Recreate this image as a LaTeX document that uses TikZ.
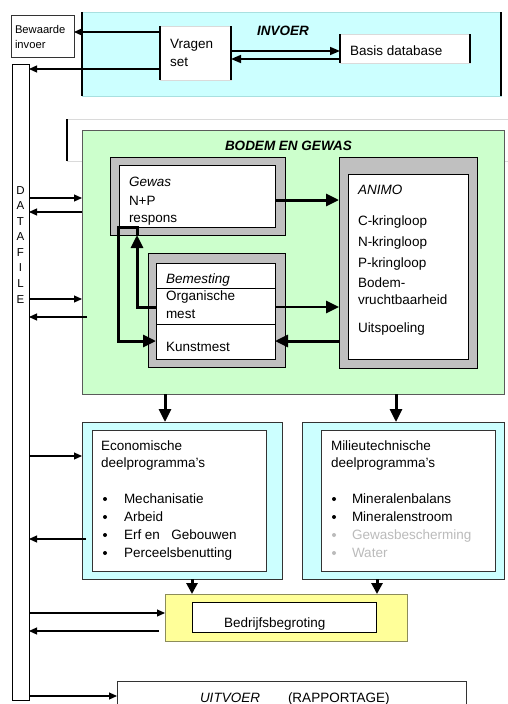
\documentclass[tikz,border=0pt]{standalone}
\usepackage{fontspec}
\setmainfont{Liberation Sans}
\usetikzlibrary{arrows.meta}
\definecolor{cyanfill}{HTML}{CCFFFF}
\definecolor{cyanedge}{HTML}{A8E0E0}
\definecolor{greenfill}{HTML}{CCFFCC}
\definecolor{greenedge}{HTML}{5A5A5A}
\definecolor{framegray}{HTML}{C0C0C0}
\definecolor{yellowfill}{HTML}{FFFF99}
\definecolor{yellowedge}{HTML}{8C8C5A}
\definecolor{lightline}{HTML}{DADADA}
\definecolor{greytext}{HTML}{BBBBBB}
\definecolor{darkedge}{HTML}{333333}
\begin{document}
\begin{tikzpicture}[x=1pt,y=-1pt,
  box/.style={rectangle, inner sep=0pt, outer sep=0pt, anchor=north west, line width=1pt},
  txt/.style={inner sep=0pt, outer sep=0pt, anchor=base west, font=\fontsize{13.5}{16}\selectfont},
  smalltxt/.style={txt, font=\fontsize{11.2}{14}\selectfont},
  bul/.style={circle, fill=black, inner sep=0pt, minimum size=4pt},
  thinarr/.style={line width=1.1pt, -{Triangle[length=8pt,width=7pt]}},
  medarr/.style={line width=1.6pt, -{Triangle[length=10pt,width=8pt]}},
  thickarr/.style={line width=3pt, line join=miter, -{Triangle[length=13pt,width=12pt]}},
  sideline/.style={line width=2.2pt}
]
\useasboundingbox (0,0) rectangle (508,704);
\clip (0,0) rectangle (508,704);

% ---- INVOER ----
\node[box, minimum width=63pt, minimum height=42pt, draw=darkedge, fill=white] (bew) at (11,15) {};
\node[smalltxt] (bewt1) at (15,33) {Bewaarde};
\node[smalltxt] (bewt2) at (15,48) {invoer};

\node[box, minimum width=17pt, minimum height=636pt, draw=black, fill=white] (data) at (12,64) {};
\foreach \l/\y [count=\i] in {D/194,A/209.6,T/225.1,A/240.7,F/256.3,I/271.9,L/287.4,E/303} {
  \node[inner sep=0pt, anchor=base, font=\fontsize{11.5}{14}\selectfont] (dl\i) at (20.5,\y) {\l};
}

\node[box, minimum width=419pt, minimum height=84pt, draw=cyanedge, fill=cyanfill] (invoer) at (82,12) {};
\draw[sideline] (invoer.north west) -- (invoer.south west);
\draw[sideline] (invoer.north east) -- (invoer.south east);
\node[txt, font=\fontsize{13.5}{16}\selectfont\bfseries\itshape] (invt) at (257,35) {INVOER};

\node[box, minimum width=71pt, minimum height=54pt, draw=lightline, fill=white] (vragen) at (160,26) {};
\draw[sideline] (vragen.north west) -- (vragen.south west);
\draw[sideline] (vragen.north east) -- (vragen.south east);
\node[txt] (vt1) at (170,48) {Vragen};
\node[txt] (vt2) at (170,66) {set};

\node[box, minimum width=130pt, minimum height=29pt, draw=lightline, fill=white] (basis) at (340,34) {};
\draw[line width=1.8pt] (basis.north west) -- (basis.south west);
\draw[line width=1.8pt] (basis.north east) -- (basis.south east);
\node[txt] (bt) at (350,55) {Basis database};

\draw[thinarr] (vragen.west |- 0,32) -- (bew.east |- 0,32);
\draw[thinarr] (vragen.west |- 0,69) -- (data.east |- 0,69);
\draw[medarr] (vragen.east |- 0,51) -- (basis.west |- 0,51);
\draw[medarr] (basis.west |- 0,59) -- (vragen.east |- 0,59);

% ---- ghost frame ----
\node[box, minimum width=460pt, minimum height=42pt, draw=lightline] (ghost) at (67,119) {};
\draw[sideline] (ghost.north west) -- (ghost.south west);

% ---- BODEM EN GEWAS ----
\node[box, minimum width=422pt, minimum height=264pt, draw=greenedge, fill=greenfill] (bodem) at (82,130) {};
\node[txt, font=\fontsize{13.5}{16}\selectfont\bfseries\itshape] (bodt) at (225,150) {BODEM EN GEWAS};

\node[box, minimum width=175pt, minimum height=78pt, draw=black, fill=framegray] (gewasO) at (110,157) {};
\node[box, minimum width=156pt, minimum height=62pt, draw=black, fill=white] (gewasI) at (119,165) {};
\node[txt, font=\fontsize{13.5}{16}\selectfont\itshape] (gw1) at (129,186) {Gewas};
\node[txt] (gw2) at (129,205) {N+P};
\node[txt] (gw3) at (129,222) {respons};

\node[box, minimum width=137pt, minimum height=114pt, draw=black, fill=framegray] (bemO) at (148,253) {};
\node[box, minimum width=119pt, minimum height=96pt, draw=black, fill=white] (bemI) at (156,263) {};
\draw[line width=0.8pt] (bemI.west |- 0,288) -- (bemI.east |- 0,288);
\draw[line width=0.8pt] (bemI.west |- 0,324) -- (bemI.east |- 0,324);
\node[txt, font=\fontsize{13.5}{16}\selectfont\itshape] (bm1) at (166,283) {Bemesting};
\node[txt] (bm2) at (166,300) {Organische};
\node[txt] (bm3) at (166,318) {mest};
\node[txt] (bm4) at (166,351) {Kunstmest};

\node[box, minimum width=138pt, minimum height=211pt, draw=black, fill=framegray] (animoO) at (339,157) {};
\node[box, minimum width=120pt, minimum height=185pt, draw=black, fill=white] (animoI) at (348,174) {};
\node[txt, font=\fontsize{13.5}{16}\selectfont\itshape] (an0) at (358,194) {ANIMO};
\node[txt] (an1) at (358,225) {C-kringloop};
\node[txt] (an2) at (358,246) {N-kringloop};
\node[txt] (an3) at (358,267) {P-kringloop};
\node[txt] (an4) at (358,287) {Bodem-};
\node[txt] (an5) at (358,304) {vruchtbaarheid};
\node[txt] (an6) at (358,332) {Uitspoeling};

\draw[thickarr] (gewasI.east |- 0,200) -- (animoO.west |- 0,200);
\draw[thickarr, line width=2.6pt] (bemI.east |- 0,307) -- (animoO.west |- 0,307);
\draw[thickarr] (animoO.west |- 0,341) -- (bemI.east |- 0,341);

\coordinate (lp1) at (137,227);
\coordinate (lp2) at (118,227);
\draw[thickarr] (bemI.west |- 0,307) -| (gewasO.south -| lp1);
\draw[thickarr] (gewasO.south -| lp1) -- (lp1) -- (lp2) |- (bemI.west |- 0,341);

% datafile <-> bodem
\draw[thinarr] (data.east |- 0,198) -- (bodem.west |- 0,198);
\draw[thinarr] (bodem.west |- 0,212) -- (data.east |- 0,212);
\draw[thinarr] (data.east |- 0,299) -- (bodem.west |- 0,299);
\coordinate (r4) at (87,317);
\draw[thinarr] (r4) -- (data.east |- r4);

% ---- deelprogramma's ----
\node[box, minimum width=200pt, minimum height=157pt, draw=darkedge, fill=cyanfill] (econO) at (82,422) {};
\node[box, minimum width=174pt, minimum height=141pt, draw=darkedge, fill=white] (econI) at (92,430) {};
\node[txt] (ect1) at (101,450) {Economische};
\node[txt] (ect2) at (101,467) {deelprogramma’s};
\node[bul] (eb1) at (105,499) {};
\node[bul] (eb2) at (105,517) {};
\node[bul] (eb3) at (105,535) {};
\node[bul] (eb4) at (105,553) {};
\node[txt] (ei1) at (124,503) {Mechanisatie};
\node[txt] (ei2) at (124,521) {Arbeid};
\node[txt] (ei3) at (124,539) {Erf en\ \ \ Gebouwen};
\node[txt] (ei4) at (124,557) {Perceelsbenutting};

\node[box, minimum width=202pt, minimum height=157pt, draw=darkedge, fill=cyanfill] (milO) at (302,422) {};
\node[box, minimum width=174pt, minimum height=141pt, draw=darkedge, fill=white] (milI) at (321,430) {};
\node[txt] (mt1) at (331,450) {Milieutechnische};
\node[txt] (mt2) at (331,467) {deelprogramma’s};
\node[bul] (mb1) at (334,499) {};
\node[bul] (mb2) at (334,517) {};
\node[bul, fill=greytext] (mb3) at (334,535) {};
\node[bul, fill=greytext] (mb4) at (334,553) {};
\node[txt] (mi1) at (352,503) {Mineralenbalans};
\node[txt] (mi2) at (352,521) {Mineralenstroom};
\node[txt, text=greytext] (mi3) at (352,539) {Gewasbescherming};
\node[txt, text=greytext] (mi4) at (352,557) {Water};

\draw[thickarr] (bodem.south -| 165,0) -- (econO.north -| 165,0);
\draw[thickarr] (bodem.south -| 396,0) -- (milO.north -| 396,0);

\draw[thinarr] (data.east |- 0,456) -- (econO.west |- 0,456);
\coordinate (r6) at (86,539);
\draw[thinarr] (r6) -- (data.east |- r6);

% ---- Bedrijfsbegroting ----
\node[box, minimum width=242pt, minimum height=47pt, draw=yellowedge, fill=yellowfill] (bedO) at (165,594) {};
\node[box, minimum width=184pt, minimum height=30pt, draw=black, fill=white] (bedI) at (192,602) {};
\node[txt] (bedt) at (224,627) {Bedrijfsbegroting};

\draw[thickarr, -{Triangle[length=11pt,width=11pt]}] (econO.south -| 192,0) -- (bedO.north -| 192,0);
\draw[thickarr, -{Triangle[length=11pt,width=11pt]}] (milO.south -| 377,0) -- (bedO.north -| 377,0);

\draw[thinarr] (data.east |- 0,613) -- (bedO.west |- 0,613);
\coordinate (r8) at (159,631);
\draw[thinarr] (r8) -- (data.east |- r8);

% ---- UITVOER ----
\node[box, minimum width=349pt, minimum height=40pt, draw=darkedge, fill=white] (uit) at (117,681) {};
\node[txt, font=\fontsize{13.5}{16}\selectfont\itshape] (ut1) at (200,702) {UITVOER};
\node[txt] (ut2) at (288,702) {(RAPPORTAGE)};
\draw[thinarr] (data.east |- 0,696) -- (uit.west |- 0,696);
\end{tikzpicture}
\end{document}
